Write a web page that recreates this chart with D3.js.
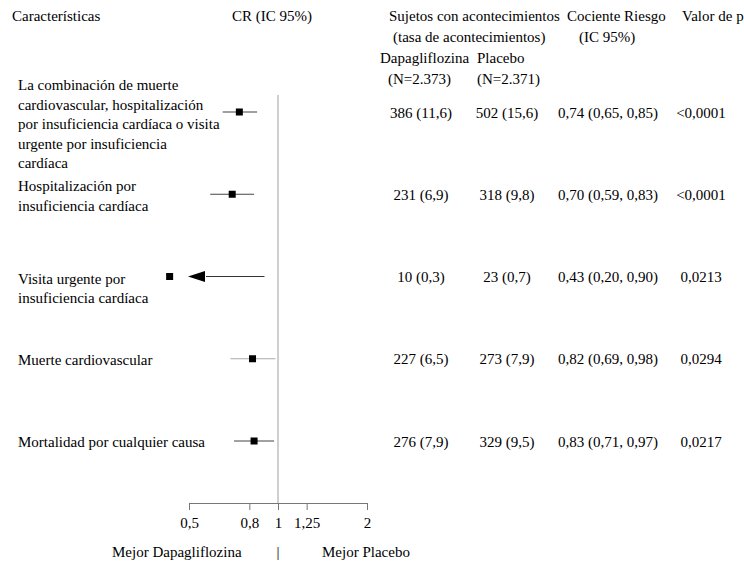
<!DOCTYPE html>
<html>
<head>
<meta charset="utf-8">
<script src="https://cdn.jsdelivr.net/npm/d3@7"></script>
<style>
  html, body { margin: 0; padding: 0; background: #fff; }
  svg { display: block; }
  text { font-family: "Liberation Serif", "Times New Roman", serif; font-size: 15px; fill: #000; }
</style>
</head>
<body>
<svg id="chart" width="744" height="567"></svg>
<script>
// Outcomes (each label split into the lines it is printed on)
const outcomes = [
  ["La combinación de muerte", "cardiovascular, hospitalización", "por insuficiencia cardíaca o visita", "urgente por insuficiencia", "cardíaca"],
  ["Hospitalización por", "insuficiencia cardíaca"],
  ["Visita urgente por", "insuficiencia cardíaca"],
  ["Muerte cardiovascular"],
  ["Mortalidad por cualquier causa"]
];
// Hazard ratios with 95% CI
const hazardRatio = [0.74, 0.70, 0.43, 0.82, 0.83];
const ciLower     = [0.65, 0.59, 0.20, 0.69, 0.71];
const ciUpper     = [0.85, 0.83, 0.90, 0.98, 0.97];
// Subjects with events (event rate)
const dapaEvents    = [386, 231, 10, 227, 276];
const dapaRate      = [11.6, 6.9, 0.3, 6.5, 7.9];
const placeboEvents = [502, 318, 23, 273, 329];
const placeboRate   = [15.6, 9.8, 0.7, 7.9, 9.5];
const pValues = ["<0,0001", "<0,0001", "0,0213", "0,0294", "0,0217"];
// Axis
const axisTicks = [0.5, 0.8, 1, 1.25, 2];
const axisDomain = [0.5, 2];

// Layout
const labelX = 18;
const labelLineHeight = 19.5;
const labelFirstOffset = [-22, -3, 7, 6, 6];   // first baseline relative to row centre
const colCentres = { dapa: 421, placebo: 507, hr: 608, p: 701 };
const axisY = 503;

const locale = d3.formatLocale({ decimal: ",", thousands: ".", grouping: [3], currency: ["", "€"] });
const f1 = locale.format(".1f");
const f2 = locale.format(".2f");
const fTick = v => locale.format("~g")(v);

const svg = d3.select("#chart");

const x = d3.scaleLog().domain(axisDomain).range([189, 367]);
const y = d3.scalePoint().domain(d3.range(outcomes.length)).range([112, 441]);

// Column headers
const headers = [
  { t: "Características", x: 12, y: 21 },
  { t: "CR (IC 95%)", x: 232, y: 21 },
  { t: "Sujetos con acontecimientos", x: 389, y: 21 },
  { t: "(tasa de acontecimientos)", x: 393, y: 42 },
  { t: "Cociente Riesgo", x: 567, y: 21 },
  { t: "(IC 95%)", x: 579, y: 42 },
  { t: "Valor de p", x: 682, y: 21 },
  { t: "Dapagliflozina", x: 380, y: 63 },
  { t: "Placebo", x: 477, y: 63 },
  { t: "(N=2.373)", x: 388, y: 84 },
  { t: "(N=2.371)", x: 477, y: 84 }
];
svg.append("g").selectAll("text").data(headers).join("text")
  .attr("x", d => d.x).attr("y", d => d.y).text(d => d.t);

// Reference line at HR = 1
svg.append("line")
  .attr("x1", x(1)).attr("x2", x(1))
  .attr("y1", 95).attr("y2", axisY)
  .attr("stroke", "#a0a0a0").attr("stroke-width", 1);

const rows = svg.append("g").selectAll("g").data(outcomes.map((o, i) => i)).join("g");

// Outcome labels
rows.append("text")
  .attr("x", labelX)
  .attr("y", i => y(i) + labelFirstOffset[i])
  .selectAll("tspan").data(i => outcomes[i]).join("tspan")
  .attr("x", labelX)
  .attr("dy", (d, k) => k === 0 ? 0 : labelLineHeight)
  .text(d => d);

// Confidence intervals (clipped at axis minimum with an arrow)
const ciColor = ["#444", "#444", "#444", "#aaaaaa", "#444"];
rows.each(function(i) {
  const g = d3.select(this);
  const cy = y(i);
  const lo = Math.max(ciLower[i], axisDomain[0]);
  const clipped = ciLower[i] < axisDomain[0];
  const startX = clipped ? x(lo) + 17 : x(lo);
  g.append("line")
    .attr("x1", startX).attr("x2", x(ciUpper[i]))
    .attr("y1", cy).attr("y2", cy)
    .attr("stroke", clipped ? "#333" : ciColor[i]).attr("stroke-width", 1.2);
  if (clipped) {
    const tip = x(lo) - 1;
    g.append("path")
      .attr("d", `M${tip},${cy} L${tip + 17},${cy - 5.5} L${tip + 17},${cy + 5.5} Z`)
      .attr("fill", "#000");
  }
  g.append("rect")
    .attr("x", x(hazardRatio[i]) - 3.5).attr("y", cy - 3.5)
    .attr("width", 7).attr("height", 7)
    .attr("fill", "#000");
});

// Value columns
const valueCols = [
  i => `${dapaEvents[i]} (${f1(dapaRate[i])})`,
  i => `${placeboEvents[i]} (${f1(placeboRate[i])})`,
  i => `${f2(hazardRatio[i])} (${f2(ciLower[i])}, ${f2(ciUpper[i])})`,
  i => pValues[i]
];
const colX = [colCentres.dapa, colCentres.placebo, colCentres.hr, colCentres.p];
valueCols.forEach((fn, c) => {
  rows.append("text")
    .attr("x", colX[c]).attr("y", i => y(i) + 5.5)
    .attr("text-anchor", "middle")
    .text(fn);
});

// Axis
const axis = d3.axisBottom(x).tickValues(axisTicks).tickSize(7).tickSizeOuter(0).tickPadding(7).tickFormat(fTick);
const ag = svg.append("g").attr("transform", `translate(0,${axisY})`).call(axis);
ag.select(".domain").attr("stroke", "#777");
ag.selectAll(".tick line").attr("stroke", "#777");
ag.selectAll(".tick text").attr("font-family", "Liberation Serif, serif").attr("font-size", 15).attr("fill", "#000");

// Direction labels
svg.append("text").attr("x", 112).attr("y", 557).text("Mejor Dapagliflozina");
svg.append("text").attr("x", x(1)).attr("y", 557).attr("text-anchor", "middle").text("|");
svg.append("text").attr("x", 322).attr("y", 557).text("Mejor Placebo");
</script>
</body>
</html>
